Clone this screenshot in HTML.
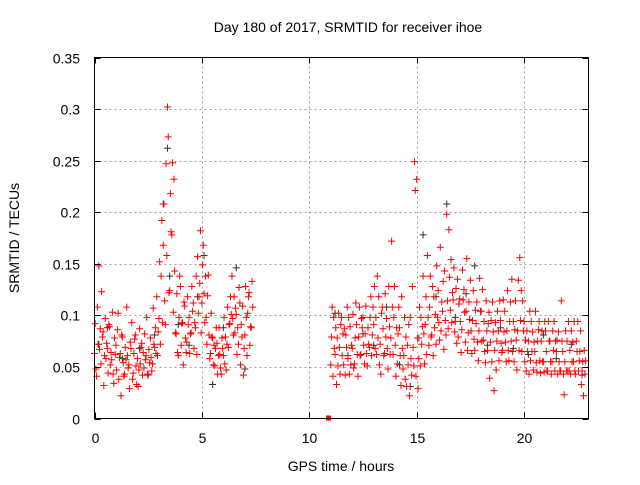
<!DOCTYPE html>
<html><head><meta charset="utf-8"><style>
body{margin:0;background:#fff}
svg text{font-family:"Liberation Sans",sans-serif;font-size:14px;fill:#000}
</style></head><body>
<svg id="chart" width="640" height="480" viewBox="0 0 640 480" xmlns="http://www.w3.org/2000/svg">
<g id="grid"></g>
<g id="black"></g>
<g id="red"></g>
<rect x="94.5" y="57.5" width="494" height="361" fill="none" stroke="#000" stroke-width="1"/>
<g id="ticks"></g>
<text x="348" y="32" text-anchor="middle">Day 180 of 2017, SRMTID for receiver ihoe</text>
<text x="341" y="471" text-anchor="middle">GPS time / hours</text>
<text transform="translate(19,238) rotate(-90)" text-anchor="middle">SRMTID / TECUs</text>
</svg>
<script>
const xTicks=[0,5,10,15,20];
const yTicks=[0,0.05,0.1,0.15,0.2,0.25,0.3,0.35];
const yTickLabels=["0","0.05","0.1","0.15","0.2","0.25","0.3","0.35"];
// rows: [hour, sample1, sample2, sample3] — samples taken ~2 min apart
const sampleOffsetsHours=[0,0.033,0.067];
const redRows=[
[0.0,.063,.092,.048],[0.1,.041,.108,.072],[0.2,.148,.067,.087],[0.3,.053,.123,.079],[0.4,.084,.032,.061],[0.5,.097,.058,.073],[0.6,.068,.044,.091],[0.7,.089,.052,.064],[0.8,.057,.103,.043],[0.9,.034,.078,.062],
[1.0,.071,.047,.086],[1.1,.102,.038,.059],[1.2,.063,.022,.081],[1.3,.079,.054,.041],[1.4,.043,.069,.057],[1.5,.108,.061,.049],[1.6,.052,.029,.074],[1.7,.068,.093,.038],[1.8,.044,.063,.077],[1.9,.081,.051,.033],
[2.0,.058,.031,.047],[2.1,.087,.053,.069],[2.2,.073,.042,.064],[2.3,.049,.082,.057],[2.4,.061,.098,.043],[2.5,.042,.067,.054],[2.6,.078,.059,.046],[2.7,.053,.107,.072],[2.8,.069,.088,.063],[2.9,.118,.061,.084],
[3.0,.097,.152,.072],[3.1,.138,.192,.093],[3.2,.168,.208,.114],[3.3,.091,.247,.158],[3.4,.302,.273,.122],[3.5,.124,.218,.181],[3.6,.178,.248,.103],[3.7,.232,.143,.083],[3.8,.082,.121,.064],[3.9,.061,.098,.138],
[4.0,.128,.071,.092],[4.1,.093,.052,.113],[4.2,.109,.078,.064],[4.3,.074,.118,.091],[4.4,.098,.063,.082],[4.5,.083,.128,.104],[4.6,.112,.068,.093],[4.7,.088,.138,.062],[4.8,.157,.102,.118],[4.9,.131,.182,.083],
[5.0,.112,.149,.168],[5.1,.121,.093,.138],[5.2,.098,.072,.119],[5.3,.139,.081,.058],[5.4,.063,.102,.079],[5.5,.078,.052,.071],[5.6,.051,.068,.088],[5.7,.073,.043,.061],[5.8,.088,.062,.049],[5.9,.043,.078,.068],
[6.0,.061,.098,.053],[6.1,.079,.047,.072],[6.2,.108,.069,.091],[6.3,.092,.118,.101],[6.4,.138,.097,.081],[6.5,.118,.083,.107],[6.6,.101,.062,.088],[6.7,.072,.127,.112],[6.8,.052,.091,.079],[6.9,.109,.042,.068],
[7.0,.081,.128,.098],[7.1,.061,.102,.118],[7.2,.122,.071,.089],[7.3,.088,.133,.108],
[11.0,.052,.079,.108],[11.1,.041,.098,.068],[11.2,.062,.088,.033],[11.3,.078,.051,.102],[11.4,.069,.043,.091],[11.5,.098,.061,.082],[11.6,.052,.087,.042],[11.7,.081,.069,.108],[11.8,.058,.098,.043],[11.9,.089,.052,.071],
[12.0,.068,.101,.049],[12.1,.053,.078,.112],[12.2,.091,.062,.041],[12.3,.079,.108,.061],[12.4,.062,.097,.088],[12.5,.098,.071,.053],[12.6,.082,.109,.063],[12.7,.051,.088,.072],[12.8,.069,.098,.118],[12.9,.061,.081,.108],
[13.0,.091,.128,.068],[13.1,.098,.062,.138],[13.2,.078,.118,.052],[13.3,.072,.043,.102],[13.4,.108,.087,.061],[13.5,.063,.121,.079],[13.6,.097,.068,.048],[13.7,.128,.089,.062],[13.8,.078,.172,.108],[13.9,.062,.098,.128],
[14.0,.071,.041,.088],[14.1,.053,.082,.108],[14.2,.088,.061,.032],[14.3,.118,.068,.048],[14.4,.061,.098,.038],[14.5,.079,.031,.071],[14.6,.052,.091,.022],[14.7,.098,.058,.042],[14.8,.128,.069,.051],[14.9,.249,.221,.041],
[15.0,.232,.078,.029],[15.1,.058,.108,.051],[15.2,.098,.072,.089],[15.3,.138,.082,.053],[15.4,.091,.118,.062],[15.5,.158,.098,.071],[15.6,.108,.138,.079],[15.7,.081,.128,.061],[15.8,.118,.088,.101],[15.9,.072,.148,.098],
[16.0,.124,.093,.076],[16.1,.166,.085,.113],[16.2,.104,.133,.067],[16.3,.143,.095,.081],[16.4,.198,.114,.087],[16.5,.183,.137,.105],[16.6,.154,.093,.122],[16.7,.115,.146,.084],[16.8,.094,.126,.073],[16.9,.135,.079,.111],
[17.0,.116,.094,.064],[17.1,.086,.144,.115],[17.2,.125,.103,.074],[17.3,.104,.155,.066],[17.4,.083,.113,.096],[17.5,.134,.085,.063],[17.6,.095,.124,.077],[17.7,.066,.105,.092],[17.8,.113,.074,.056],[17.9,.085,.136,.104],
[18.0,.104,.075,.125],[18.1,.076,.094,.065],[18.2,.054,.114,.085],[18.3,.066,.092,.103],[18.4,.039,.074,.095],[18.5,.055,.113,.084],[18.6,.027,.066,.093],[18.7,.047,.075,.104],[18.8,.085,.056,.114],[18.9,.095,.073,.064],
[19.0,.066,.115,.084],[19.1,.104,.074,.055],[19.2,.085,.124,.066],[19.3,.056,.094,.113],[19.4,.075,.135,.065],[19.5,.094,.055,.086],[19.6,.114,.076,.047],[19.7,.085,.134,.066],[19.8,.156,.095,.124],[19.9,.065,.114,.085],
[20.0,.094,.055,.076],[20.1,.046,.085,.065],[20.2,.075,.043,.104],[20.3,.056,.094,.065],[20.4,.084,.047,.074],[20.5,.065,.104,.054],[20.6,.045,.075,.086],[20.7,.094,.056,.044],[20.8,.075,.085,.055],[20.9,.055,.045,.094],
[21.0,.085,.065,.046],[21.1,.046,.094,.075],[21.2,.075,.055,.043],[21.3,.055,.085,.066],[21.4,.094,.046,.075],[21.5,.065,.076,.043],[21.6,.084,.055,.046],[21.7,.046,.114,.075],[21.8,.065,.043,.023],[21.9,.055,.085,.046],
[22.0,.075,.046,.094],[22.1,.046,.066,.043],[22.2,.085,.055,.074],[22.3,.055,.094,.046],[22.4,.043,.075,.065],[22.5,.094,.046,.056],[22.6,.065,.085,.033],[22.7,.046,.055,.022],[22.8,.066,.043,.056]
];
const blackRows=[
[0.2,.072],[0.6,.088],[1.3,.058],[2.1,.068],[2.8,.081],[3.2,.208],[3.4,.262],[3.5,.138],[3.9,.091],[4.4,.071],[4.8,.118],[5.1,.158],[5.5,.033],[6.0,.088],[6.6,.146],[7.0,.048],
[11.2,.102],[11.8,.061],[12.5,.082],[13.0,.071],[13.6,.108],[14.2,.052],[14.7,.031],[15.1,.078],[15.3,.178],[15.9,.118],[16.4,.208],[16.8,.098],[17.3,.121],[17.7,.148],[18.3,.071],[18.9,.088],[19.5,.068],[20.2,.062],[20.9,.081],[21.5,.058],[22.2,.072],[22.7,.042]
];
const redSquare=[[10.9,0]];
const NS="http://www.w3.org/2000/svg";
const X0=94.5,X1=588.5,XMAX=23,Y0=418.5,Y1=57.5,YMAX=0.35;
function sx(h){return X0+(X1-X0)*h/XMAX;}
function sy(v){return Y0-(Y0-Y1)*v/YMAX;}
const grid=document.getElementById('grid'),ticks=document.getElementById('ticks');
function line(g,x1,y1,x2,y2,st,dash){const l=document.createElementNS(NS,'line');l.setAttribute('x1',x1);l.setAttribute('y1',y1);l.setAttribute('x2',x2);l.setAttribute('y2',y2);l.setAttribute('stroke',st);l.setAttribute('stroke-width',1);if(dash)l.setAttribute('stroke-dasharray',dash);g.appendChild(l);return l;}
function txt(x,y,s,anchor){const t=document.createElementNS(NS,'text');t.setAttribute('x',x);t.setAttribute('y',y);t.setAttribute('text-anchor',anchor);t.textContent=s;ticks.appendChild(t);return t;}
xTicks.forEach(h=>{const x=Math.round(sx(h))+0.5;
 if(h>0){const g=line(grid,x,Y0,x,Y1,'#a0a0a0','2,3');}
 line(ticks,x,Y0,x,Y0-6,'#000');line(ticks,x,Y1,x,Y1+6,'#000');
 const t=txt(x,443,String(h),'middle');});
yTicks.forEach((v,i)=>{const y=Math.round(sy(v))+0.5;
 if(v>0&&v<YMAX){const g=line(grid,X0,y,X1,y,'#a0a0a0','2,3');}
 line(ticks,X0,y,X0+6,y,'#000');line(ticks,X1,y,X1-6,y,'#000');
 const t=txt(80,y+5,yTickLabels[i],'end');});
function plus(g,h,v,c){const x=sx(h),y=sy(v);const p=document.createElementNS(NS,'path');
 p.setAttribute('d',`M${x-3.5} ${y}H${x+3.5}M${x} ${y-3.5}V${y+3.5}`);p.setAttribute('stroke',c);p.setAttribute('stroke-width',1);p.setAttribute('fill','none');
 
 
 g.appendChild(p);}
const bg=document.getElementById('black'),rg=document.getElementById('red');
blackRows.forEach(r=>plus(bg,r[0],r[1],'#333'));
redRows.forEach(r=>{for(let k=1;k<r.length;k++){plus(rg,r[0]+sampleOffsetsHours[k-1],r[k],'#f00');}});
redSquare.forEach(r=>{const s=document.createElementNS(NS,'rect');s.setAttribute('x',sx(r[0])-2.5);s.setAttribute('y',sy(r[1])-3);s.setAttribute('width',5);s.setAttribute('height',5);s.setAttribute('fill','#f00');
 
 
 rg.appendChild(s);});
</script>
</body></html>
